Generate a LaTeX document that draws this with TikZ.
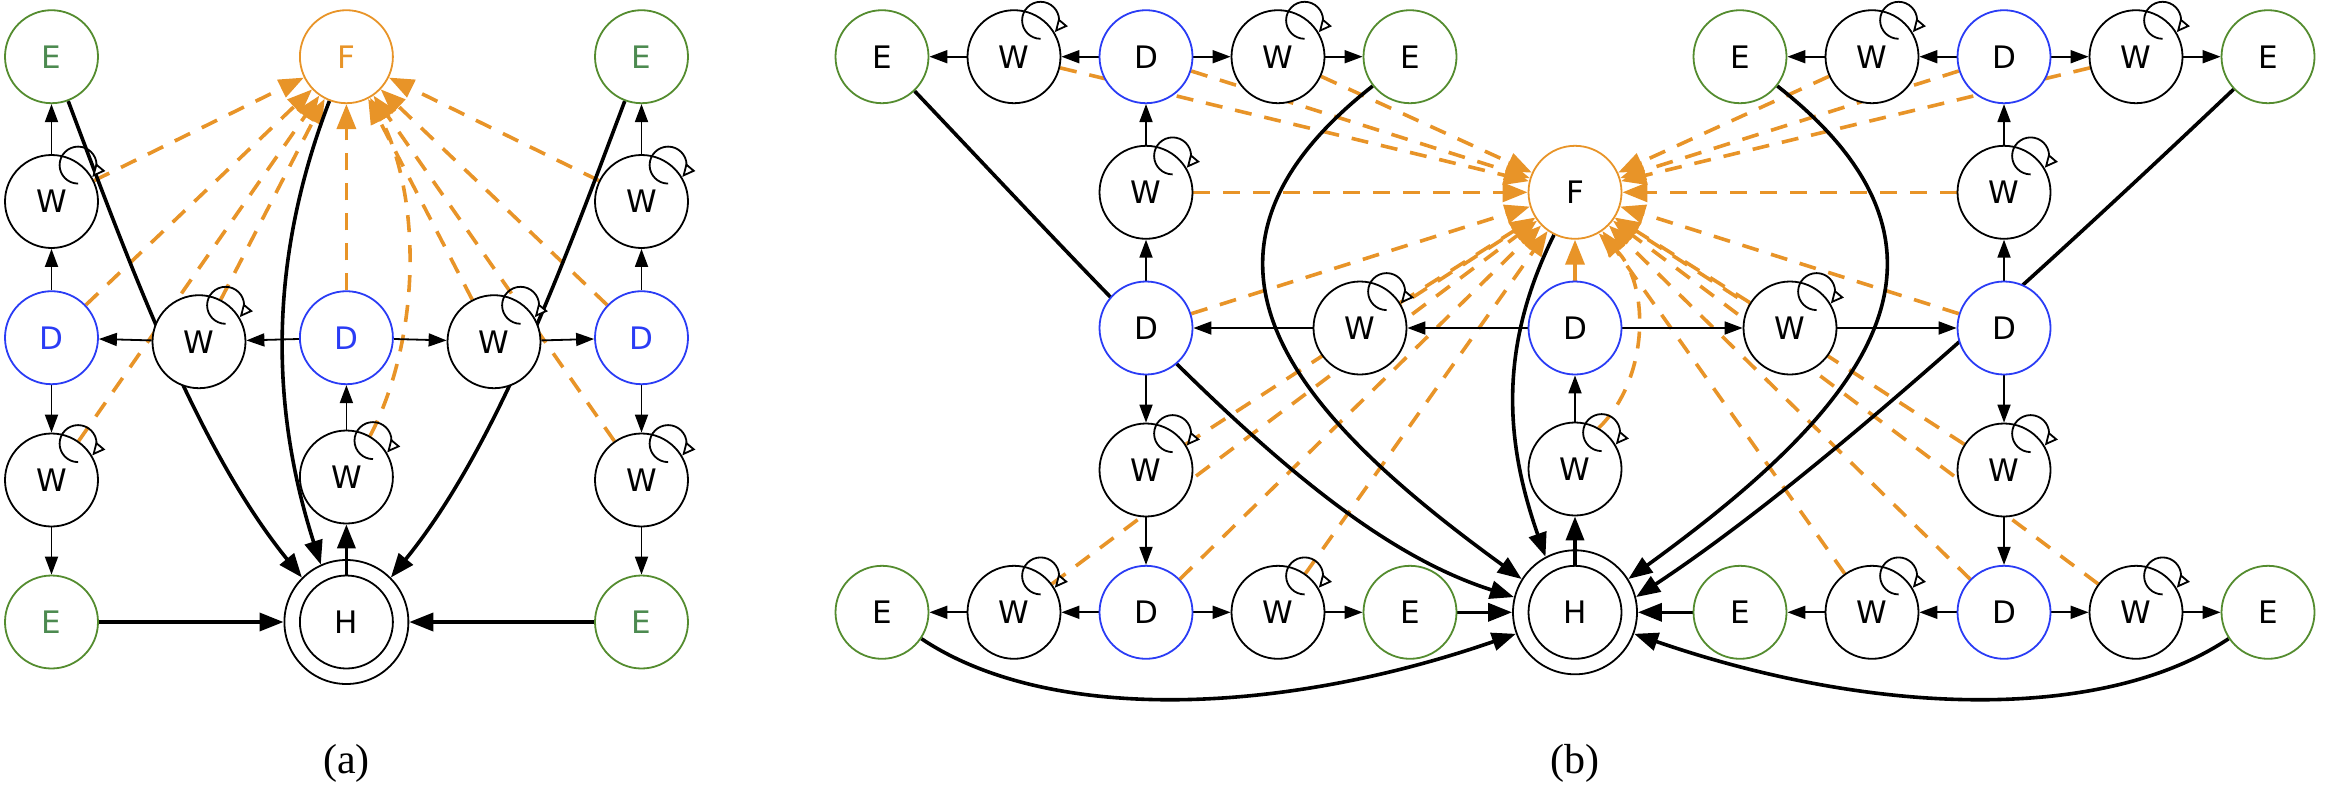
\documentclass[tikz,border=0pt]{standalone}
\usepackage{fontspec}
\setmainfont{DejaVu Sans}
\newfontfamily\labfont{Liberation Serif}
\usetikzlibrary{arrows.meta,calc}
\definecolor{egreen}{HTML}{548C2F}
\definecolor{etext}{HTML}{4C8A50}
\definecolor{dblue}{HTML}{2A3CF5}
\definecolor{forange}{HTML}{E89428}
\pgfdeclarelayer{bg}
\pgfsetlayers{bg,main}
\newcommand\wloop[1]{\draw[loopar] ($(#1.center)+(26.6,-17.9)$) arc[start angle=90,end angle=400,radius=18.5];}
\begin{document}
\begin{tikzpicture}[x=1pt,y=-1pt,
  st/.style={circle,draw,line width=1.8pt,fill=white,minimum size=93pt,inner sep=0pt,font=\fontsize{31}{32}\selectfont},
  es/.style={st,draw=egreen},
  ds/.style={st,draw=dblue},
  fs/.style={st,draw=forange},
  hs/.style={st,minimum size=124pt},
  his/.style={st,fill=none},
  thinar/.style={line width=1.8pt,-{Triangle[length=18pt,width=13pt]}},
  thickar/.style={line width=3.6pt,-{Triangle[length=24pt,width=18pt]}},
  fdash/.style={draw=forange,line width=3.6pt,dash pattern=on 17pt off 13pt,-{Triangle[length=25pt,width=19pt]}},
  loopar/.style={line width=1.8pt,-{Triangle[length=13pt,width=12pt,fill=white]}}
]
\useasboundingbox (0,0) rectangle (2325,793);
% ---------------- panel (a) nodes
\node[es,text=etext] (aE1) at (51.5,56.7) {E};
\node[fs,text=forange] (aF) at (346.4,56.7) {F};
\node[es,text=etext] (aE2) at (641.5,56.7) {E};
\node[st] (aW2L) at (51.5,201.5) {W};
\node[st] (aW2R) at (641.5,201.5) {W};
\node[ds,text=dblue] (aDL) at (51.5,337.7) {D};
\node[ds,text=dblue] (aDC) at (346.4,337.7) {D};
\node[ds,text=dblue] (aDR) at (641.5,337.7) {D};
\node[st] (aW3L) at (199,341.7) {W};
\node[st] (aW3R) at (494,341.7) {W};
\node[st] (aW4L) at (51.5,480) {W};
\node[st] (aW4C) at (346.4,477) {W};
\node[st] (aW4R) at (641.5,480) {W};
\node[es,text=etext] (aE3) at (51.5,622) {E};
\node[hs] (aH) at (346.4,622) {};
\node[his] (aHi) at (346.4,622) {H};
\node[es,text=etext] (aE4) at (641.5,622) {E};
\node[font=\labfont\fontsize{42}{44}\selectfont] (la) at (346.4,763) {(a)};
% ---------------- panel (b) nodes
\node[es] (bE1) at (882,56.7) {E};
\node[st] (bW1) at (1014,56.7) {W};
\node[ds] (bD1) at (1146,56.7) {D};
\node[st] (bW2) at (1278,56.7) {W};
\node[es] (bE2) at (1410,56.7) {E};
\node[es] (bE3) at (1740,56.7) {E};
\node[st] (bW3) at (1872,56.7) {W};
\node[ds] (bD2) at (2004,56.7) {D};
\node[st] (bW4) at (2136,56.7) {W};
\node[es] (bE4) at (2268,56.7) {E};
\node[st] (bWL2) at (1146,192.3) {W};
\node[fs] (bF) at (1575,192.3) {F};
\node[st] (bWR2) at (2004,192.3) {W};
\node[ds] (bDML) at (1146,328) {D};
\node[st] (bWML) at (1360,328) {W};
\node[ds] (bDMC) at (1575,328) {D};
\node[st] (bWMR) at (1790,328) {W};
\node[ds] (bDMR) at (2004,328) {D};
\node[st] (bWL4) at (1146,470) {W};
\node[st] (bWC4) at (1575,469) {W};
\node[st] (bWR4) at (2004,470) {W};
\node[es] (bE5) at (882,612.3) {E};
\node[st] (bW5) at (1014,612.3) {W};
\node[ds] (bD3) at (1146,612.3) {D};
\node[st] (bW6) at (1278,612.3) {W};
\node[es] (bE6) at (1410,612.3) {E};
\node[hs] (bH) at (1575,612.3) {};
\node[his] (bHi) at (1575,612.3) {H};
\node[es] (bE7) at (1740,612.3) {E};
\node[st] (bW7) at (1872,612.3) {W};
\node[ds] (bD4) at (2004,612.3) {D};
\node[st] (bW8) at (2136,612.3) {W};
\node[es] (bE8) at (2268,612.3) {E};
\node[font=\labfont\fontsize{42}{44}\selectfont] (lb) at (1575,763) {(b)};
% ---------------- edges behind the nodes
\begin{pgfonlayer}{bg}
% (a) dashed to F
\foreach \s in {aW2L,aDL,aW4L,aW3L,aDC,aW3R,aW4R,aDR,aW2R} \draw[fdash] (\s) -- (aF);
\draw[fdash] (aW4C.60) .. controls (421.4,336.7) and (421.4,197) .. (aF.300);
% (a) thick
\draw[thickar] (aE1) .. controls (128,260) and (196,447) .. (aH.135);
\draw[thickar] (aE2) .. controls (564.8,260) and (496.8,447) .. (aH.45);
\draw[thickar] (aF) .. controls (268.5,259.6) and (269.9,405.4) .. (aH.114);
\draw[thickar] (aE3) -- (aH);
\draw[thickar] (aE4) -- (aH);
% (a) thin
\draw[thinar] (aW2L) -- (aE1);
\draw[thinar] (aDL) -- (aW2L);
\draw[thinar] (aDL) -- (aW4L);
\draw[thinar] (aW4L) -- (aE3);
\draw[thinar] (aW3L) -- (aDL);
\draw[thinar] (aDC) -- (aW3L);
\draw[thinar] (aDC) -- (aW3R);
\draw[thinar] (aW3R) -- (aDR);
\draw[thinar] (aDR) -- (aW2R);
\draw[thinar] (aW2R) -- (aE2);
\draw[thinar] (aDR) -- (aW4R);
\draw[thinar] (aW4R) -- (aE4);
\draw[thinar] (aW4C) -- (aDC);
% (b) dashed to F
\foreach \s in {bW1,bD1,bW2,bWL2,bDML,bWML,bWL4,bD3,bW5,bW6,bW3,bD2,bW4,bWR2,bDMR,bWMR,bWR4,bD4,bW7,bW8,bDMC} \draw[fdash] (\s) -- (bF);
\draw[fdash] (bWC4.60) .. controls (1650,378) and (1650,282.6) .. (bF.300);
% (b) thick
\draw[thickar] (bE2) .. controls (1155,257) and (1293,413) .. (bH.148);
\draw[thickar] (bE3) .. controls (1995,257) and (1857,413) .. (bH.32);
\draw[thickar] (bE1) .. controls (1156,345.3) and (1325,537) .. (bH.166);
\draw[thickar] (bE4) .. controls (2017,294.4) and (1806,485) .. (bH.14);
\draw[thickar] (bF) .. controls (1498.9,346) and (1504.4,439.2) .. (bH.118);
\draw[thickar] (bE5) .. controls (1047,722.8) and (1276.8,716.5) .. (bH.200);
\draw[thickar] (bE8) .. controls (2103,722.8) and (1873.2,716.5) .. (bH.340);
\draw[thickar] (bE6) -- (bH);
\draw[thickar] (bE7) -- (bH);
% (b) thin
\draw[thinar] (bW1) -- (bE1);
\draw[thinar] (bD1) -- (bW1);
\draw[thinar] (bD1) -- (bW2);
\draw[thinar] (bW2) -- (bE2);
\draw[thinar] (bW3) -- (bE3);
\draw[thinar] (bD2) -- (bW3);
\draw[thinar] (bD2) -- (bW4);
\draw[thinar] (bW4) -- (bE4);
\draw[thinar] (bWL2) -- (bD1);
\draw[thinar] (bDML) -- (bWL2);
\draw[thinar] (bWR2) -- (bD2);
\draw[thinar] (bDMR) -- (bWR2);
\draw[thinar] (bWML) -- (bDML);
\draw[thinar] (bDMC) -- (bWML);
\draw[thinar] (bDMC) -- (bWMR);
\draw[thinar] (bWMR) -- (bDMR);
\draw[thinar] (bDML) -- (bWL4);
\draw[thinar] (bWL4) -- (bD3);
\draw[thinar] (bDMR) -- (bWR4);
\draw[thinar] (bWR4) -- (bD4);
\draw[thinar] (bWC4) -- (bDMC);
\draw[thinar] (bW5) -- (bE5);
\draw[thinar] (bD3) -- (bW5);
\draw[thinar] (bD3) -- (bW6);
\draw[thinar] (bW6) -- (bE6);
\draw[thinar] (bW7) -- (bE7);
\draw[thinar] (bD4) -- (bW7);
\draw[thinar] (bD4) -- (bW8);
\draw[thinar] (bW8) -- (bE8);
\end{pgfonlayer}
% ---------------- H -> W (through the ring), loops
\draw[thickar] (aHi) -- (aW4C);
\draw[thickar] (bHi) -- (bWC4);
\foreach \w in {aW2L,aW2R,aW3L,aW3R,aW4L,aW4C,aW4R,bW1,bW2,bW3,bW4,bWL2,bWR2,bWML,bWMR,bWL4,bWC4,bWR4,bW5,bW6,bW7,bW8} {\wloop{\w}}
\end{tikzpicture}
\end{document}
